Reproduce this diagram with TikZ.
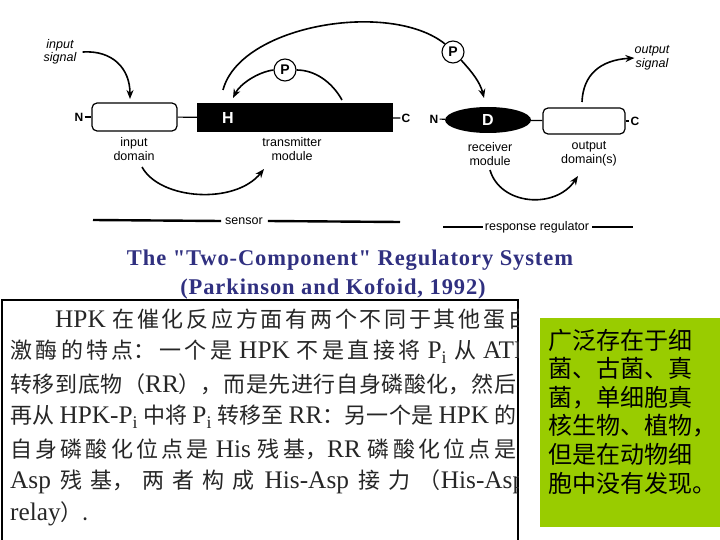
\documentclass[tikz,border=0pt]{standalone}
\usepackage{fontspec}
\setmainfont{Liberation Serif}
\setsansfont{Liberation Sans}
\newfontfamily\cjk{Noto Sans CJK SC}
\newfontfamily\latinrm{Liberation Serif}[Scale=1.15]
\newfontfamily\titlefont{Liberation Serif}[LetterSpace=4]
\usepackage{xcolor}
\usetikzlibrary{shapes,arrows,arrows.meta,positioning,calc}

\definecolor{titleblue}{RGB}{48,48,128}
\definecolor{notegreen}{RGB}{153,204,0}

\XeTeXlinebreaklocale "zh"
\XeTeXlinebreakskip=0pt plus 2pt

\newcommand{\jline}[2]{\parbox{#1}{\XeTeXlinebreakskip=0pt plus 4pt\XeTeXlinebreakpenalty=10000
  \parfillskip=0pt\tolerance=10000\noindent #2}}
\newcommand{\latword}[1]{{\latinrm #1}}

\begin{document}
\begin{tikzpicture}[x=1pt, y=-1pt,
    lbl/.style={font=\sffamily\fontsize{12.5}{13.5}\selectfont, align=center, inner sep=0pt},
    sig/.style={lbl, font=\sffamily\itshape\fontsize{12.5}{13.5}\selectfont},
    term/.style={font=\sffamily\bfseries\fontsize{12}{12}\selectfont, inner sep=1pt},
    domainbox/.style={rectangle, rounded corners=5pt, draw, fill=white, line width=1.2pt, minimum width=85pt, minimum height=28pt, inner sep=0pt},
    pbox/.style={circle, draw, fill=white, line width=1.1pt, minimum size=22pt, inner sep=0pt, font=\sffamily\bfseries\fontsize{14}{14}\selectfont},
    site/.style={text=white, inner sep=0pt, font=\sffamily\bfseries\fontsize{16}{16}\selectfont},
    link/.style={line width=1.2pt},
    loopline/.style={line width=1.6pt},
    arrow/.style={->, >={Stealth[length=9pt,width=7pt]}, line width=1.6pt},
    sensorbar/.style={line width=2.4pt},
    headline/.style={text=titleblue, inner sep=0pt, font=\titlefont\bfseries\fontsize{22.5}{26}\selectfont},
    cjkline/.style={anchor=west, inner sep=0pt, text=black!85, font=\cjk\fontsize{22}{22}\selectfont},
    noteline/.style={anchor=west, inner sep=0pt, font=\cjk\fontsize{24}{24}\selectfont}
]
\useasboundingbox (0,0) rectangle (720,540);

% Sensor kinase
\node[term] (nsen) at (79,117) {N};
\node[domainbox] (indomain) at (134.5,117) {};
\node[fill=black, minimum width=196pt, minimum height=29pt, inner sep=0pt] (transmitter) at (295,117.5) {};
\node[site] (his) at (228,118) {H};
\node[term] (csen) at (406,118) {C};

% Response regulator
\node[term] (nrr) at (434,119) {N};
\node[ellipse, fill=black, minimum width=86pt, minimum height=26pt, inner sep=0pt] (receiver) at (488,120) {};
\node[site] (asp) at (488,120) {D};
\node[domainbox, minimum width=82pt, minimum height=26pt] (outdomain) at (584,121) {};
\node[term] (crr) at (635,121) {C};

% Linkers
\draw[link] (nsen) -- (indomain);
\draw[link] (indomain) -- (transmitter);
\draw[link] (transmitter) -- (csen);
\draw[link] (nrr) -- (receiver);
\draw[link] (receiver) -- (outdomain);
\draw[link] (outdomain) -- (crr);

% Phosphoryl transfer
\node[pbox] (pauto) at (285,70) {P};
\node[pbox] (prelay) at (453,52) {P};
\coordinate (kinase) at (342,100);
\coordinate (hsite) at (233,98);
\coordinate (hout) at (223,90);
\coordinate (dsite) at (484,98);
\draw[loopline] (kinase) .. controls (332,82) and (315,70) .. (pauto.east);
\draw[arrow] (pauto.west) .. controls (258,72) and (240,84) .. (hsite);
\draw[loopline] (hout) .. controls (240,25) and (390,0) .. (prelay.north west);
\draw[arrow] (prelay.south east) .. controls (472,72) and (480,82) .. (dsite);

% Signals
\node[sig] (insig) at (60,52) {input\\signal};
\node[sig] (outsig) at (652,58) {output\\signal};
\coordinate (intop) at (130,99);
\coordinate (outtop) at (582,102);
\draw[arrow] ([xshift=6pt]insig.east) .. controls (112,50) and (130,68) .. (intop);
\draw[arrow] (outtop) .. controls (583,75) and (600,60) .. (outsig.west);

% Module labels
\node[lbl] (inlabel) at (134,149) {input\\domain};
\node[lbl] (translabel) at (292,149) {transmitter\\module};
\node[lbl] (recvlabel) at (490,154) {receiver\\module};
\node[lbl] (outlabel) at (589,154) {output\\domain(s)};
\coordinate (inturn) at (142,167);
\coordinate (transturn) at (264,169);
\coordinate (recvturn) at (490,170);
\coordinate (outturn) at (578,176);
\draw[arrow] (inturn) .. controls (160,200) and (235,205) .. (transturn);
\draw[arrow] (recvturn) .. controls (500,205) and (555,210) .. (outturn);

% Protein bars
\node[lbl] (sensor) at (244,221) {sensor};
\node[lbl] (regulator) at (537,227) {response regulator};
\coordinate (sensorl) at (93,220);
\coordinate (sensorr) at (400,222);
\coordinate (regl) at (443,227);
\coordinate (regr) at (633,227);
\draw[sensorbar] (sensorl) -- ([xshift=-4pt]sensor.west);
\draw[sensorbar] ([xshift=5pt]sensor.east) -- (sensorr);
\draw[line width=2pt] (regl) -- ([xshift=-2pt]regulator.west);
\draw[line width=2pt] ([xshift=3pt]regulator.east) -- (regr);

% Title
\node[headline] (title) at (350,260) {The "Two-Component" Regulatory System};
\node[headline] (citation) at (333,289) {(Parkinson and Kofoid, 1992)};

% Text box
\node[draw, line width=1.5pt, anchor=north west, minimum width=516pt, minimum height=250pt, inner sep=0pt] (textbox) at (1,299) {};
\begin{scope}
\clip (textbox.north west) rectangle (textbox.south east);
\node[cjkline] (hpk1) at (55,319) {\jline{475pt}{\latword{HPK} 在催化反应方面有两个不同于其他蛋白}};
\node[cjkline] (hpk2) at (10,351.5) {\jline{518pt}{激酶的特点：一个是 \latword{HPK} 不是直接将 \latword{P\textsubscript{i}} 从 \latword{ATP}}};
\node[cjkline] (hpk3) at (10,384) {\jline{506pt}{转移到底物（\latword{RR}），而是先进行自身磷酸化，然后}};
\node[cjkline] (hpk4) at (10,416.5) {\jline{506pt}{再从 \latword{HPK-P\textsubscript{i}} 中将 \latword{P\textsubscript{i}} 转移至 \latword{RR}：另一个是 \latword{HPK} 的}};
\node[cjkline] (hpk5) at (10,449) {\jline{506pt}{自身磷酸化位点是 \latword{His} 残基，\latword{RR} 磷酸化位点是}};
\node[cjkline] (hpk6) at (10,481.5) {\jline{515pt}{\latword{Asp} 残基，两者构成 \latword{His-Asp} 接力（\latword{His-Asp}}};
\node[cjkline] (hpk7) at (10,514) {\latword{relay}）.};
\end{scope}

% Note box
\node[fill=notegreen, anchor=north west, minimum width=181pt, minimum height=209pt, inner sep=0pt] (notebox) at (540,318) {};
\node[noteline] (note1) at (548,340) {广泛存在于细};
\node[noteline] (note2) at (548,368.6) {菌、古菌、真};
\node[noteline] (note3) at (548,397.2) {菌，单细胞真};
\node[noteline] (note4) at (548,425.8) {核生物、植物，};
\node[noteline] (note5) at (548,454.4) {但是在动物细};
\node[noteline] (note6) at (548,483) {胞中没有发现。};

\end{tikzpicture}
\end{document}
